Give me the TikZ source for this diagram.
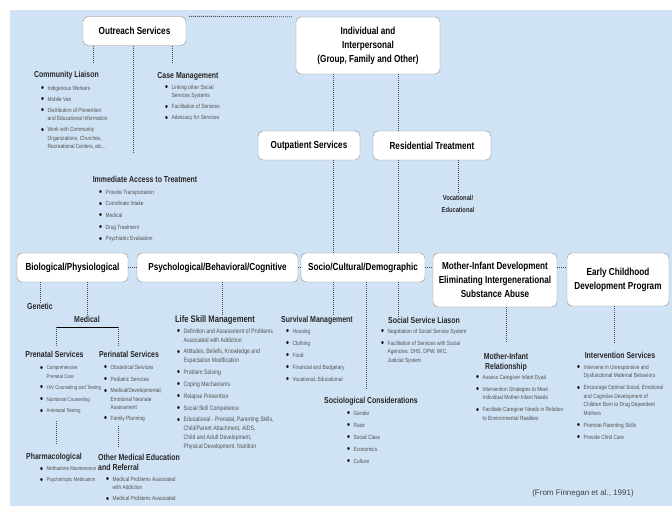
\documentclass[tikz,border=0pt]{standalone}
\usepackage{fontspec}
\setmainfont{Liberation Sans}
\newfontfamily\condfont{Liberation Sans}[FakeStretch=0.8]
\definecolor{bgblue}{HTML}{D0E3F5}
\definecolor{boxline}{HTML}{8C8C8C}
\definecolor{itemgray}{HTML}{505050}
\newcommand{\bu}{\makebox[6.5pt][l]{\color{black}\raisebox{-1.5pt}{\fontsize{10.5}{10}\selectfont\textbullet}}}
\newcommand{\cn}{\hspace*{6.5pt}}
\tikzset{
  box/.style={draw=boxline, fill=white, rounded corners=5pt, align=center, inner sep=0pt,
    font=\condfont\bfseries\fontsize{10.2}{14}\selectfont},
  head/.style={font=\condfont\bfseries\fontsize{8.7}{10}\selectfont, inner sep=0pt, align=center, text=black!85},
  items/.style={font=\condfont\fontsize{6}{8.5}\selectfont, text=itemgray, inner sep=0pt, align=left, anchor=north west},
  dots/.style={dash pattern=on 0.9pt off 1.1pt, line width=0.9pt, black!70},
}
\begin{document}
\begin{tikzpicture}[x=1pt,y=-1pt]
                    % Draw background
                    \useasboundingbox (0,0) rectangle (672,506);
                    \fill[bgblue] (10,10) rectangle (672,506);

                    % Top boxes
                    \node[box, minimum width=103pt, minimum height=29pt] (outreach) at (134.5,31) {Outreach Services};
                    \node[box, minimum width=144pt, minimum height=57pt] (indiv) at (368,45.5) {Individual and\\Interpersonal\\(Group, Family and Other)};
                    \node[box, minimum width=102pt, minimum height=29pt] (outpat) at (309,145.5) {Outpatient Services};
                    \node[box, minimum width=118pt, minimum height=29pt] (resid) at (432,145.5) {Residential Treatment};
                    \node[head, font=\condfont\bfseries\fontsize{7.2}{11.5}\selectfont] (voc) at (458,204) {Vocational/\\Educational};

                    % Main row of boxes
                    \node[box, minimum width=111pt, minimum height=29pt] (bio) at (72.5,267.5) {Biological/Physiological};
                    \node[box, minimum width=161pt, minimum height=29pt] (psych) at (217.5,267.5) {Psychological/Behavioral/Cognitive};
                    \node[box, minimum width=124pt, minimum height=29pt] (socio) at (363,267.5) {Socio/Cultural/Demographic};
                    \node[box, minimum width=124pt, minimum height=54pt] (mother) at (495,280) {Mother-Infant Development\\Eliminating Intergenerational\\Substance Abuse};
                    \node[box, minimum width=102pt, minimum height=53pt] (early) at (618,279.5) {Early Childhood\\Development Program};

                    % Links between the boxes
                    \draw[dots, shorten <=3pt, shorten >=3pt] (outreach.north east) -- (indiv.north west);
                    \draw[dots] ([xshift=-35pt]indiv.south) -- ([xshift=24pt]outpat.north);
                    \draw[dots] ([xshift=30pt]indiv.south) -- ([xshift=-34pt]resid.north);
                    \draw[dots] ([xshift=24pt]outpat.south) -- ([xshift=-30pt]socio.north);
                    \draw[dots] ([xshift=-34pt]resid.south) -- ([xshift=35pt]socio.north);
                    \draw[dots, shorten >=2pt] ([xshift=26pt]resid.south) -- (voc.north);
                    \draw[dots] (bio.east) -- (psych.west);
                    \draw[dots] (psych.east) -- (socio.west);
                    \draw[dots] (socio.east) -- (socio.east -| mother.west);
                    \draw[dots] (socio.east -| mother.east) -- (socio.east -| early.west);

                    % Outreach services
                    \node[head] (liaison) at (66.5,75) {Community Liaison};
                    \node[head] (casemgmt) at (188,76) {Case Management};
                    \node[head] (access) at (145,179) {Immediate Access to Treatment};
                    \coordinate (liaisonend) at (93,62);
                    \coordinate (caseend) at (172,62);
                    \coordinate (accessend) at (133,153);
                    \draw[dots] (outreach.south -| liaisonend) -- (liaisonend);
                    \draw[dots] (outreach.south -| caseend) -- (caseend);
                    \draw[dots] (outreach.south -| accessend) -- (accessend);
                    \node[items] (liaisonlist) at (41,85.5) {\bu Indigenous Workers\\[2.5pt]
                      \bu Mobile Van\\[2.5pt]
                      \bu Distribution of Prevention\\
                      \cn and Educational Information\\[2.5pt]
                      \bu Work with Community\\
                      \cn Organizations, Churches,\\
                      \cn Recreational Centers, etc...};
                    \node[items] (caselist) at (165,84.5) {\bu Linking other Social\\
                      \cn Services Systems\\[2.5pt]
                      \bu Facilitation of Services\\[2.5pt]
                      \bu Advocacy for Services};
                    \node[items] (accesslist) at (99,189.5) {\bu Provide Transportation\\[3.2pt]
                      \bu Coordinate Intake\\[3.2pt]
                      \bu Medical\\[3.2pt]
                      \bu Drug Treatment\\[3.2pt]
                      \bu Psychiatric Evaluation};

                    % Biological / physiological
                    \node[head] (genetic) at (40,306) {Genetic};
                    \node[head] (medical) at (87,319) {Medical};
                    \draw[dots] (genetic.north |- bio.south) -- (genetic.north);
                    \draw[dots] (medical.north |- bio.south) -- (medical.north);
                    \coordinate (medleft) at (56,327);
                    \coordinate (medright) at (118,327);
                    \draw[line width=1pt] (medleft) -- (medright);
                    \node[head] (prenatal) at (54.5,354) {Prenatal Services};
                    \node[head] (perinatal) at (129,354) {Perinatal Services};
                    \draw[dots, shorten >=4pt] (medleft) -- (medleft |- prenatal.north);
                    \draw[dots, shorten >=4pt] (medright) -- (medright |- perinatal.north);
                    \node[items, font=\condfont\fontsize{5.5}{8.5}\selectfont] (prenatallist) at (40,365.5) {\bu Comprehensive\\
                      \cn Prenatal Care\\[2.5pt]
                      \bu HIV Counseling and Testing\\[3.5pt]
                      \bu Nutritional Counseling\\[3pt]
                      \bu Antenatal Testing};
                    \node[head] (pharma) at (54,457) {Pharmacological};
                    \draw[dots, shorten <=7pt, shorten >=9pt] (prenatallist.south -| medleft) -- (pharma.north -| medleft);
                    \node[items, font=\condfont\fontsize{5.6}{8.5}\selectfont] (pharmalist) at (40,466.5) {\bu Methadone Maintenance\\[2.5pt]
                      \bu Psychotropic Medication};
                    \node[items] (perinatallist) at (104,364.5) {\bu Obstetrical Services\\[3.5pt]
                      \bu Pediatric Services\\[3pt]
                      \bu Medical/Developmental,\\
                      \cn Emotional Neonate\\
                      \cn Assessment\\[2pt]
                      \bu Family Planning};
                    \node[head, anchor=west, align=left] (othermed) at (98,462) {Other Medical Education\\and Referral};
                    \draw[dots, shorten <=4pt, shorten >=6pt] (perinatallist.south -| medright) -- (othermed.north -| medright);
                    \node[items] (othermedlist) at (106,476.5) {\bu Medical Problems Associated\\
                      \cn with Addiction\\[2.5pt]
                      \bu Medical Problems Associated};

                    % Psychological / behavioral / cognitive
                    \node[head, font=\condfont\bfseries\fontsize{9.5}{10}\selectfont] (lifeskill) at (215,320) {Life Skill Management};
                    \draw[dots] ([xshift=4.5pt]psych.south) -- ([xshift=7pt]lifeskill.north);
                    \node[items, font=\condfont\fontsize{6.4}{8.8}\selectfont] (lifelist) at (177,328.5) {\bu Definition and Assessment of Problems\\
                      \cn Associated with Addiction\\[2.8pt]
                      \bu Attitudes, Beliefs, Knowledge and\\
                      \cn Expectation Modification\\[2.8pt]
                      \bu Problem Solving\\[3.2pt]
                      \bu Coping Mechanisms\\[3.2pt]
                      \bu Relapse Prevention\\[3.2pt]
                      \bu Social Skill Competence\\[2.8pt]
                      \bu Educational - Prenatal, Parenting Skills,\\
                      \cn Child/Parent Attachment, AIDS,\\
                      \cn Child and Adult Development,\\
                      \cn Physical Development, Nutrition};

                    % Socio / cultural / demographic
                    \node[head] (survival) at (317,320) {Survival Management};
                    \node[head] (liason) at (424,320) {Social Service Liason};
                    \node[head] (sociological) at (371,401) {Sociological Considerations};
                    \draw[dots] ([xshift=-30pt]socio.south) -- ([xshift=16pt]survival.north);
                    \draw[dots, shorten >=8pt] ([xshift=3pt]socio.south) -- ([xshift=-5pt]sociological.north);
                    \draw[dots] ([xshift=35pt]socio.south) -- ([xshift=-26pt]liason.north);
                    \node[items] (survivallist) at (286,328.5) {\bu Housing\\[3.5pt]
                      \bu Clothing\\[3.5pt]
                      \bu Food\\[3.5pt]
                      \bu Financial and Budgetary\\[3.5pt]
                      \bu Vocational, Educational};
                    \node[items] (liasonlist) at (381,328.5) {\bu Negotiation of Social Service System\\[3.5pt]
                      \bu Facilitation of Services with Social\\
                      \cn Agencies: DHS, DPW, WIC,\\
                      \cn Judicial System};
                    \node[items] (sociolist) at (347,410.5) {\bu Gender\\[3.5pt]
                      \bu Race\\[3.5pt]
                      \bu Social Class\\[3.5pt]
                      \bu Economics\\[3.5pt]
                      \bu Culture};

                    % Mother-infant development
                    \node[head] (mirel) at (506,362) {Mother-Infant\\Relationship};
                    \draw[dots, shorten >=10pt] ([xshift=11pt]mother.south) -- (mirel.north);
                    \node[items] (mirellist) at (476,374.5) {\bu Assess Caregiver Infant Dyad\\[3.5pt]
                      \bu Intervention Strategies to Meet\\
                      \cn Individual Mother-Infant Needs\\[3.5pt]
                      \bu Facilitate Caregiver Needs in Relation\\
                      \cn to Environmental Realities};

                    % Early childhood development
                    \node[head] (intserv) at (620,355) {Intervention Services};
                    \draw[dots, shorten >=9pt] ([xshift=-4pt]early.south) -- ([xshift=-6pt]intserv.north);
                    \node[items] (intservlist) at (577,364.5) {\bu Intervene in Unresponsive and\\
                      \cn Dysfunctional Maternal Behaviors\\[3.5pt]
                      \bu Encourage Optimal Social, Emotional\\
                      \cn and Cognitive Development of\\
                      \cn Children Born to Drug Dependent\\
                      \cn Mothers\\[3.5pt]
                      \bu Promote Parenting Skills\\[3.5pt]
                      \bu Provide Child Care};

                    % Source
                    \node[font=\fontsize{8}{9}\selectfont, text=black!75, inner sep=0pt] (source) at (583,493) {(From Finnegan et al., 1991)};
                \end{tikzpicture}
\end{document}
